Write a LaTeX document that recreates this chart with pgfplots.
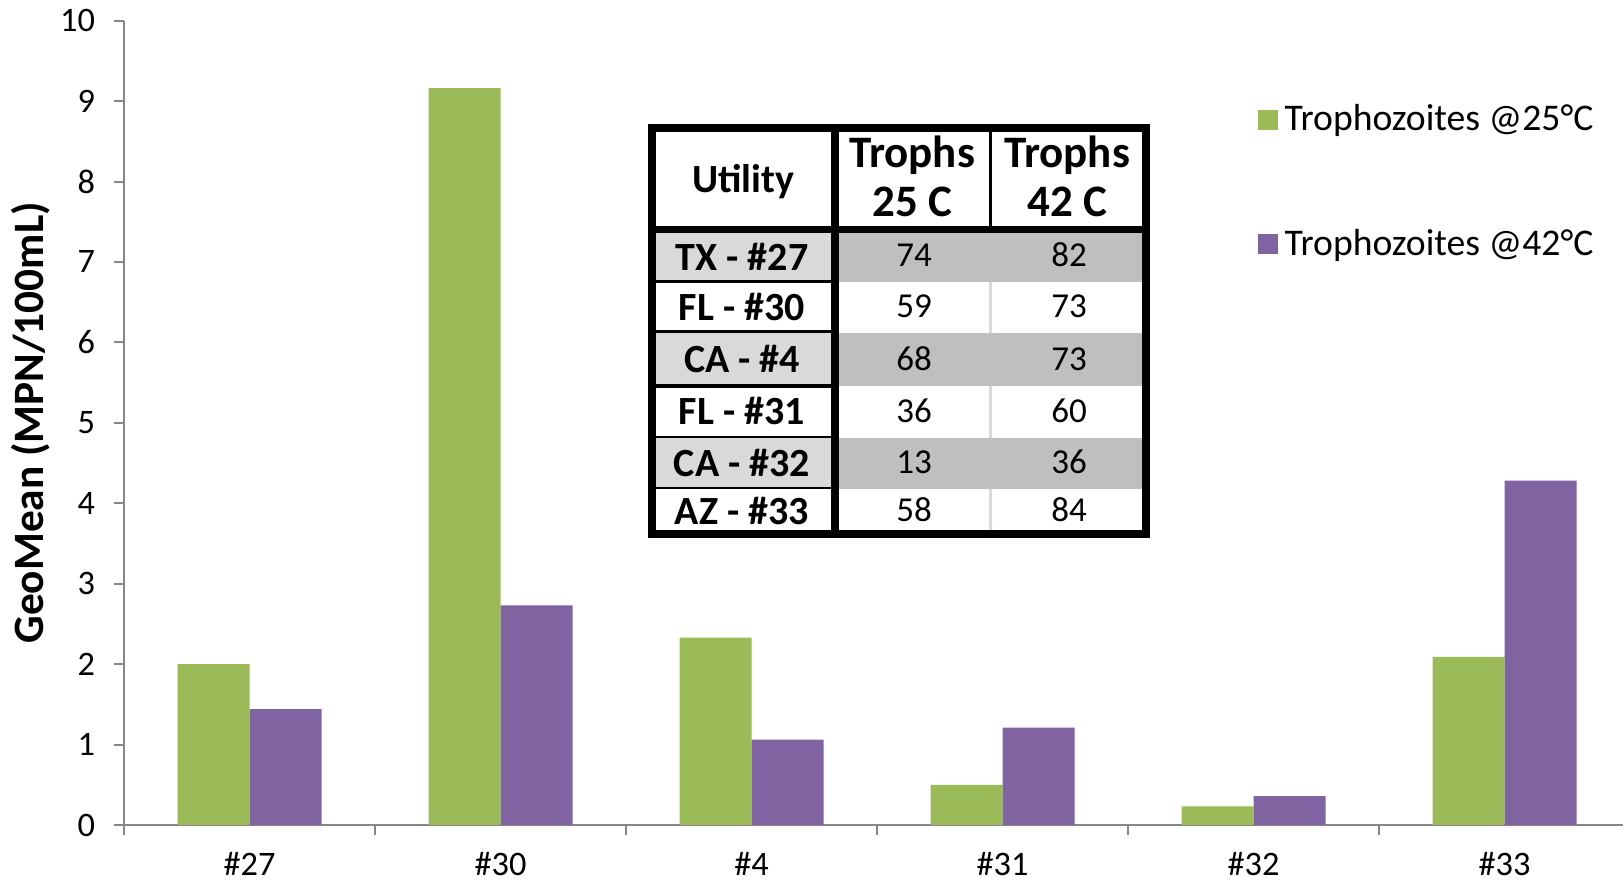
\documentclass[border=0pt]{standalone}
\usepackage{fontspec}
\setmainfont{Carlito}
\usepackage{pgfplots}
\pgfplotsset{compat=1.18}
\definecolor{grn}{HTML}{9BBB59}
\definecolor{pur}{HTML}{8064A2}
\definecolor{axgray}{HTML}{868686}
\definecolor{lgray}{HTML}{D9D9D9}
\definecolor{mgray}{HTML}{BFBFBF}
\begin{document}
\begin{tikzpicture}
\begin{axis}[
  scale only axis, width=449.7pt, height=241.3pt,
  xmin=-0.5, xmax=5.472, ymin=0, ymax=10,
  ybar=0pt, bar width=21.6pt,
  axis x line*=bottom, axis y line*=left,
  axis line style={draw=axgray, line width=0.6pt, -},
  tick align=outside, major tick length=3pt,
  tick style={draw=axgray, line width=0.6pt},
  ytick={0,1,...,10},
  xtick={-0.5,0.5,1.5,2.5,3.5,4.5},
  xticklabels={,,,,,},
  extra x ticks={0,1,2,3,4,5},
  extra x tick labels={\#27,\#30,\#4,\#31,\#32,\#33},
  extra x tick style={major tick length=0pt},
  /pgf/number format/assume math mode=true,
  ticklabel style={font=\fontsize{10.3}{12}\selectfont},
  yticklabel style={inner sep=0pt, xshift=-5.5pt},
  xticklabel style={inner sep=0pt, yshift=-8pt},
  ylabel={GeoMean (MPN/100mL)},
  ylabel style={at={(axis description cs:-0.062,0.5)}, anchor=center, font=\bfseries\fontsize{13}{15}\selectfont},
  legend style={at={(axis description cs:0.756,0.905)}, anchor=north west, draw=none, fill=none, inner sep=0pt,
    row sep=24pt, font=\fontsize{11.3}{13}\selectfont,
    /tikz/every even column/.append style={column sep=5pt}},
  legend cell align=left,
]
\addplot[fill=grn, draw=none, legend image code/.code={\fill[grn] (0pt,-3pt) rectangle (6pt,3pt);}]
  coordinates {(0,2.00) (1,9.16) (2,2.33) (3,0.50) (4,0.23) (5,2.09)};
\addplot[fill=pur, draw=none, legend image code/.code={\fill[pur] (0pt,-3pt) rectangle (6pt,3pt);}]
  coordinates {(0,1.44) (1,2.73) (2,1.06) (3,1.21) (4,0.36) (5,4.28)};
\legend{Trophozoites @25°C, Trophozoites @42°C}
\end{axis}
\begin{scope}[shift={(-37.2pt,247.5pt)}, x=0.3pt, y=-0.3pt]
 \fill[black] (648,124) rectangle (1150,538);
 \fill[white] (656,132) rectangle (831,226);
 \fill[white] (839,132) rectangle (989,226);
 \fill[white] (992,132) rectangle (1142,226);
 \fill[lgray] (656,233) rectangle (831,280);
 \fill[white] (656,283) rectangle (831,330);
 \fill[lgray] (656,333) rectangle (831,384);
 \fill[white] (656,388) rectangle (831,436);
 \fill[lgray] (656,438) rectangle (831,487);
 \fill[white] (656,489) rectangle (831,530);
 \fill[mgray] (839,233) rectangle (1142,282);
 \fill[white] (839,282) rectangle (1142,333);
 \fill[mgray] (839,333) rectangle (1142,386);
 \fill[white] (839,386) rectangle (1142,438);
 \fill[mgray] (839,438) rectangle (1142,489);
 \fill[white] (839,489) rectangle (1142,530);
 \fill[lgray] (989,282) rectangle (992,333) (989,386) rectangle (992,438) (989,489) rectangle (992,530);
 \begin{scope}[every node/.style={inner sep=0pt, anchor=base}]
 \node[font=\bfseries\fontsize{12}{14}\selectfont] at (743,193) {Utility};
 \node[font=\bfseries\fontsize{13.5}{15}\selectfont] at (912,168) {Trophs};
 \node[font=\bfseries\fontsize{13.5}{15}\selectfont] at (912,217) {25 C};
 \node[font=\bfseries\fontsize{13.5}{15}\selectfont] at (1067,168) {Trophs};
 \node[font=\bfseries\fontsize{13.5}{15}\selectfont] at (1067,217) {42 C};
 \foreach \lab/\yy in {TX - \#27/271, FL - \#30/321, CA - \#4/373, FL - \#31/425, CA - \#32/477, AZ - \#33/525}
   \node[font=\bfseries\fontsize{12}{14}\selectfont] at (742,\yy) {\lab};
 \foreach \a/\b/\yy in {74/82/267, 59/73/318, 68/73/371, 36/60/423, 13/36/474, 58/84/522} {
   \node[font=\fontsize{10.5}{12}\selectfont] at (914,\yy) {\a};
   \node[font=\fontsize{10.5}{12}\selectfont] at (1069,\yy) {\b};
 }
 \end{scope}
\end{scope}
\pgfresetboundingbox
\path[use as bounding box] (-37.2pt,247.5pt) rectangle (449.7pt,-16.5pt);
\end{tikzpicture}
\end{document}
